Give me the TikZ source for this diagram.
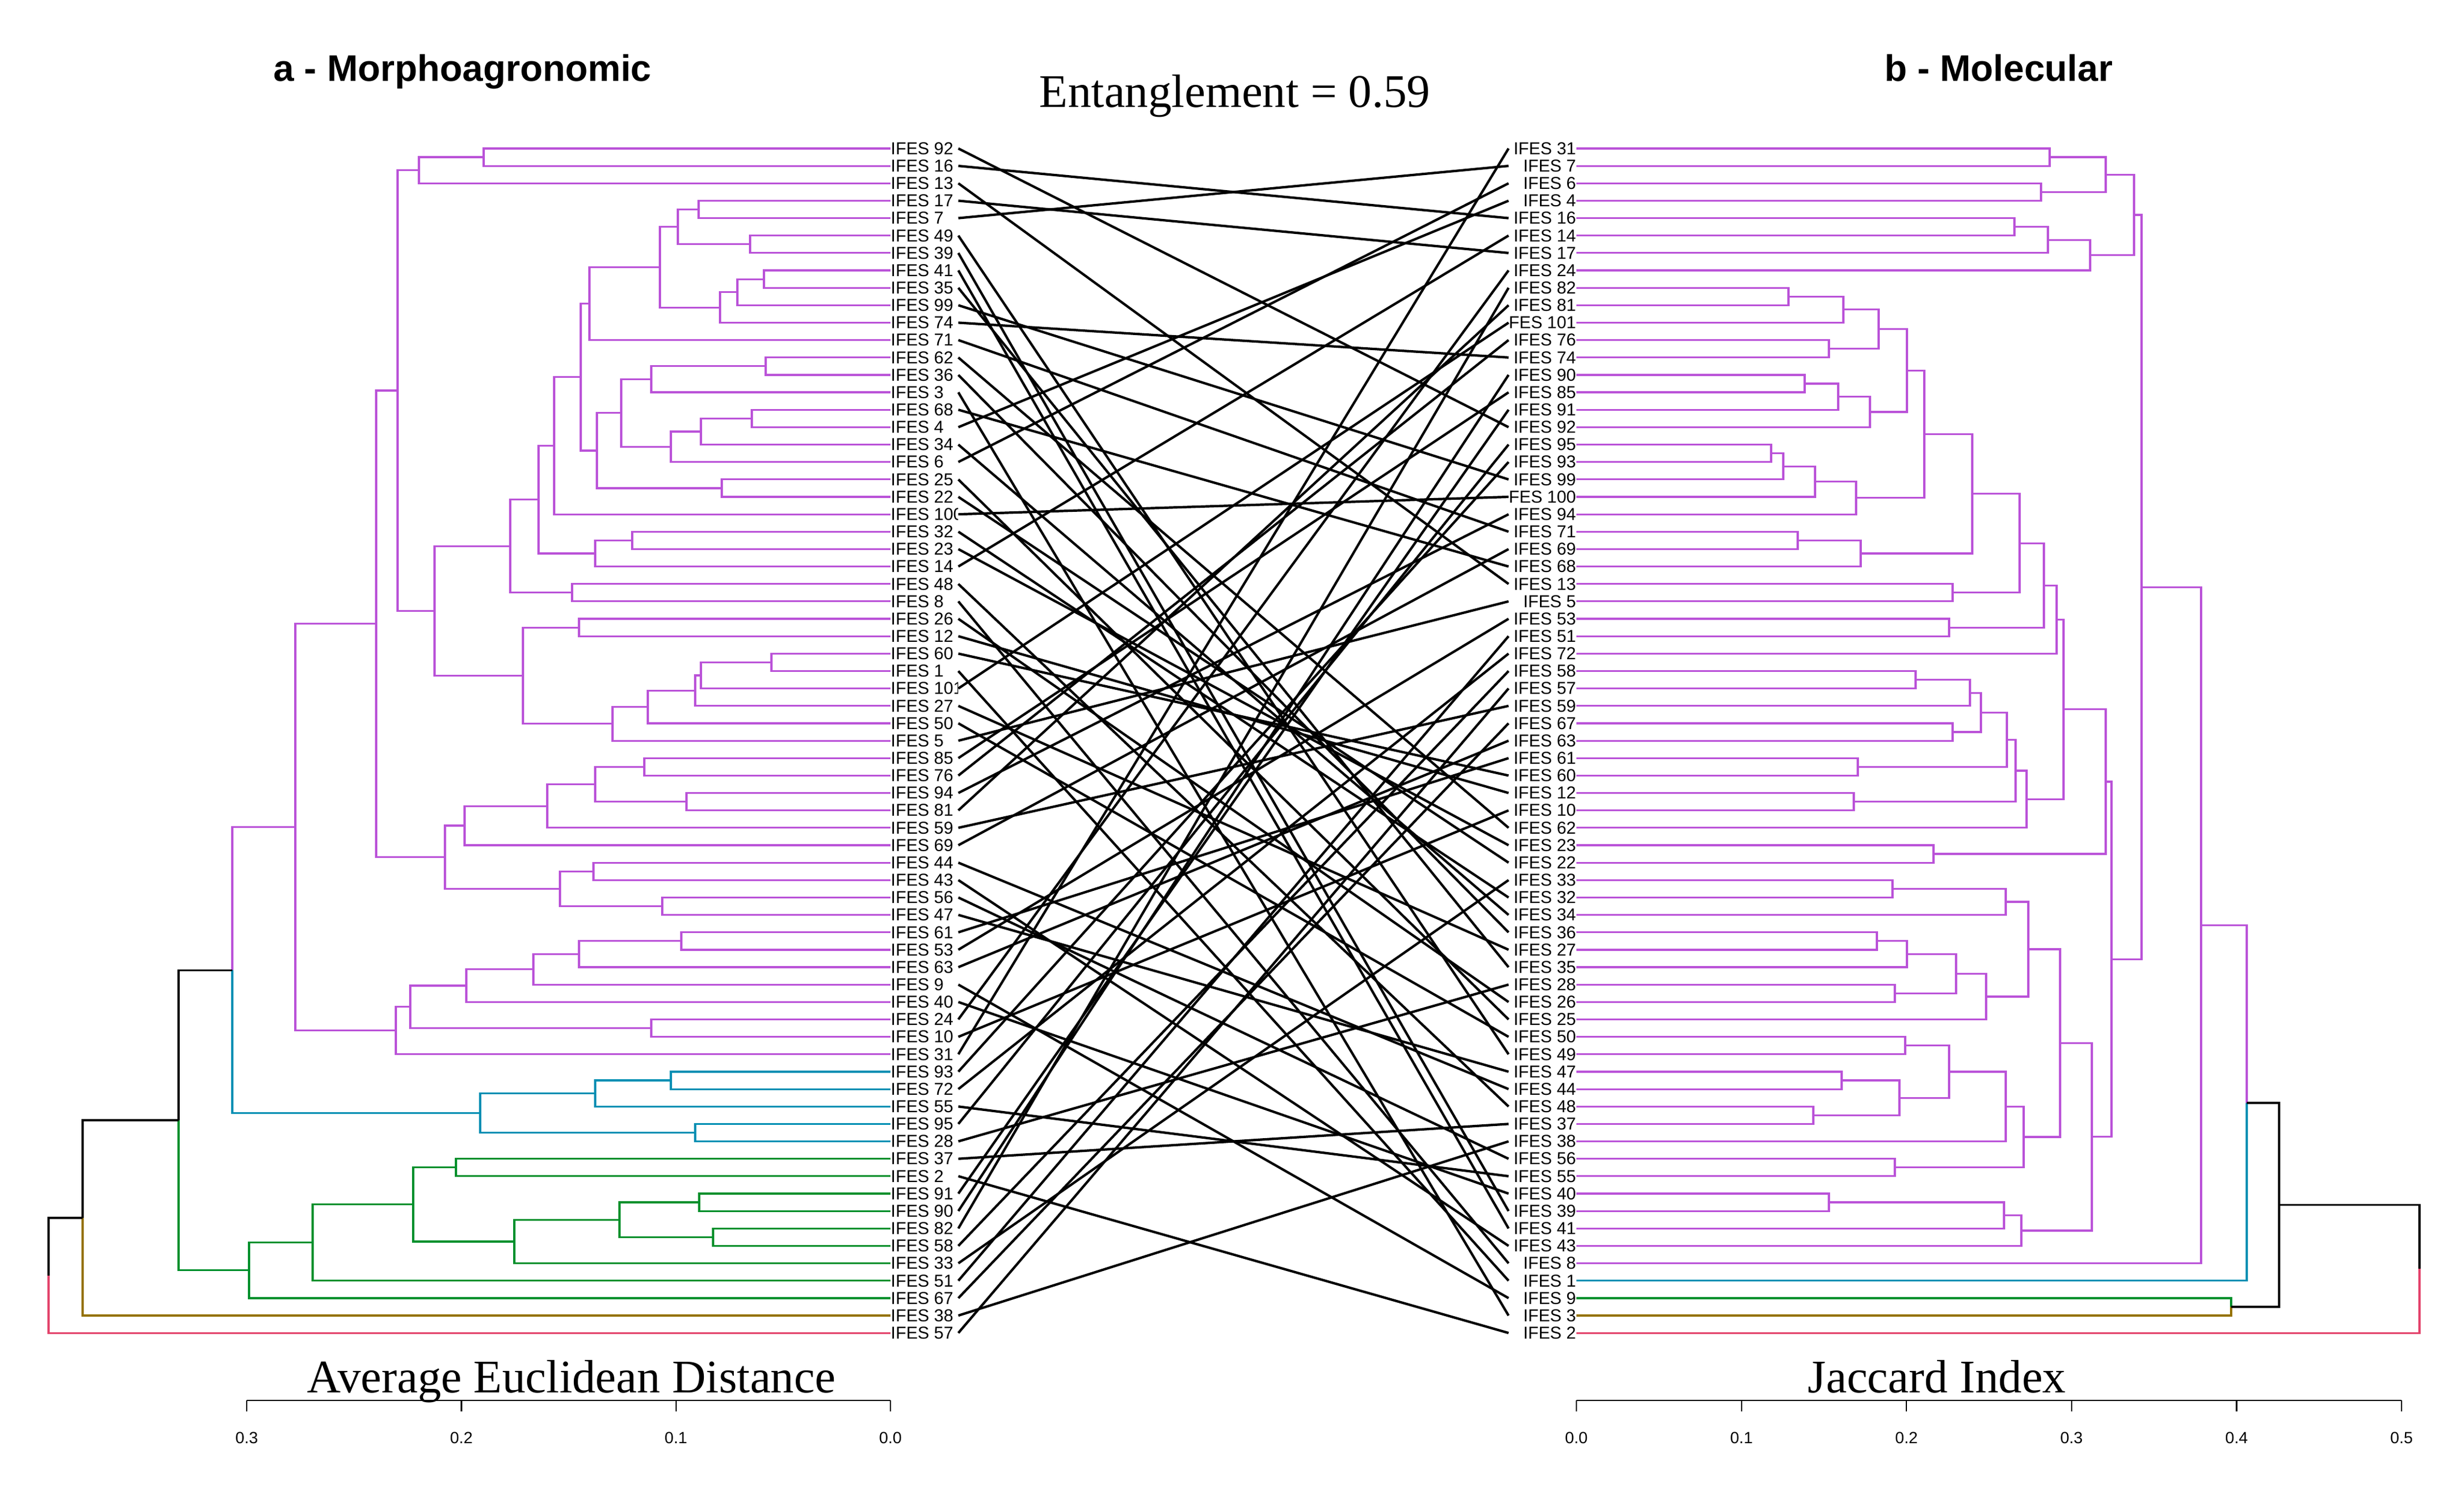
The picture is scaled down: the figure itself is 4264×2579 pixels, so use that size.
\documentclass[tikz,border=0pt]{standalone}
\usepackage{fontspec}
\setmainfont{Liberation Serif}
\setsansfont{Liberation Sans}
\usetikzlibrary{calc}

\begin{document}
\begin{tikzpicture}
  [x=0.1mm, y=-0.1mm,
    line join=miter]

    \definecolor{mauve}{HTML}{BA52D8}
    \definecolor{petrol}{HTML}{008FB3}
    \definecolor{vert}{HTML}{00902C}
    \definecolor{bronze}{HTML}{957200}
    \definecolor{rose}{HTML}{E3436B}

  \tikzset{
    branch/.style={line width=0.32mm},
    tmauve/.style={branch, draw=mauve},
    tblue/.style={branch, draw=petrol},
    tgreen/.style={branch, draw=vert},
    tolive/.style={branch, draw=bronze},
    tred/.style={branch, draw=rose},
    tblack/.style={branch, draw=black},
    leaf/.style={
      inner sep=0pt,
      font=\sffamily\fontsize{8.5}{8.5}\selectfont,
    },
    lname/.style={leaf, anchor=west},
    rname/.style={leaf, anchor=east},
    tie/.style={draw=black, line width=0.42mm},
    scaleline/.style={draw=black, line width=0.22mm},
    ticklab/.style={inner sep=0pt, font=\sffamily\fontsize{8}{8}\selectfont},
    paneltitle/.style={inner sep=0pt, font=\sffamily\bfseries\fontsize{18.2}{18.2}\selectfont},
    serifcap/.style={inner sep=0pt, font=\fontsize{23}{23}\selectfont},
  }

  \useasboundingbox (0,0) rectangle (4264,2579);

  % labels, cut at the ends of the ties
  \begin{scope}
    \clip (1400,200) rectangle (1657,2400);
    \foreach \n [count=\i] in {92,16,13,17,7,49,39,41,35,99,74,71,62,36,3,68,4,34,6,25,22,100,32,
        23,14,48,8,26,12,60,1,101,27,50,5,85,76,94,81,59,69,44,43,56,47,61,53,63,9,40,24,10,31,93,
        72,55,95,28,37,2,91,90,82,58,33,51,67,38,57}
      \node[lname] (l\n) at (1541, {257+(\i-1)*30.15}) {\makebox[11.6mm][l]{IFES \n}};
  \end{scope}
  \begin{scope}
    \clip (2612,200) rectangle (2900,2400);
    \foreach \n [count=\i] in {31,7,6,4,16,14,17,24,82,81,101,76,74,90,85,91,92,95,93,99,100,94,71,
        69,68,13,5,53,51,72,58,57,59,67,63,61,60,12,10,62,23,22,33,32,34,36,27,35,28,26,25,50,49,47,
        44,48,37,38,56,55,40,39,41,43,8,1,9,3,2}
      \node[rname] (r\n) at (2728, {257+(\i-1)*30.15}) {\makebox[11.6mm][r]{IFES \n}};
  \end{scope}

  % left tree
  \foreach \nm/\h/\ca/\cb/\st in {
      la1/837/l92/l16/tmauve, la2/725/la1/l13/tmauve, la3/1209/l17/l7/tmauve,
      la4/1298/l49/l39/tmauve, la5/1173/la3/la4/tmauve, la6/1322/l41/l35/tmauve,
      la7/1276/la6/l99/tmauve, la8/1246/la7/l74/tmauve, la9/1142/la5/la8/tmauve,
      la10/1020/la9/l71/tmauve, la11/1325/l62/l36/tmauve, la12/1127/la11/l3/tmauve,
      la13/1301/l68/l4/tmauve, la14/1213/la13/l34/tmauve, la15/1161/la14/l6/tmauve,
      la16/1075/la12/la15/tmauve, la17/1249/l25/l22/tmauve, la18/1033/la16/la17/tmauve,
      la19/1005/la10/la18/tmauve, la20/959/la19/l100/tmauve, la21/1094/l32/l23/tmauve,
      la22/1030/la21/l14/tmauve, la23/932/la20/la22/tmauve, la24/990/l48/l8/tmauve,
      la25/883/la23/la24/tmauve, la26/1002/l26/l12/tmauve, la27/1335/l60/l1/tmauve,
      la28/1213/la27/l101/tmauve, la29/1203/la28/l27/tmauve, la30/1121/la29/l50/tmauve,
      la31/1060/la30/l5/tmauve, la32/905/la26/la31/tmauve, la33/752/la25/la32/tmauve,
      la34/688/la2/la33/tmauve, la35/1115/l85/l76/tmauve, la36/1188/l94/l81/tmauve,
      la37/1030/la35/la36/tmauve, la38/947/la37/l59/tmauve, la39/804/la38/l69/tmauve,
      la40/1027/l44/l43/tmauve, la41/1146/l56/l47/tmauve, la42/969/la40/la41/tmauve,
      la43/770/la39/la42/tmauve, la44/651/la34/la43/tmauve, la45/1179/l61/l53/tmauve,
      la46/1002/la45/l63/tmauve, la47/923/la46/l9/tmauve, la48/807/la47/l40/tmauve,
      la49/1127/l24/l10/tmauve, la50/710/la48/la49/tmauve, la51/685/la50/l31/tmauve,
      la52/511/la44/la51/tmauve,
      la53/1161/l93/l72/tblue, la54/1030/la53/l55/tblue, la55/1203/l95/l28/tblue,
      la56/831/la54/la55/tblue,
      la58/789/l37/l2/tgreen, la59/1210/l91/l90/tgreen, la60/1234/l82/l58/tgreen,
      la61/1072/la59/la60/tgreen, la62/890/la61/l33/tgreen, la63/715/la58/la62/tgreen,
      la64/541/la63/l51/tgreen, la65/431/la64/l67/tgreen}{
    \path let \p1=($(\ca)!0.5!(\cb)$) in coordinate (\nm) at (\h*0.1mm, \y1);
    \draw[\st] (\ca) -| (\nm) |- (\cb);
  }

  \path let \p1=($(la52)!0.5!(la56)$) in coordinate (la57) at (402*0.1mm, \y1);
  \draw[tmauve] (la57) |- (la52);
  \draw[tblue] (la57) |- (la56);
  \path let \p1=($(la57)!0.5!(la65)$) in coordinate (la66) at (309*0.1mm, \y1);
  \draw[tblack] (la66) |- (la57);
  \draw[tgreen] (la66) |- (la65);
  \path let \p1=($(la66)!0.5!(l38)$) in coordinate (la67) at (143*0.1mm, \y1);
  \draw[tblack] (la67) |- (la66);
  \draw[tolive] (la67) |- (l38);
  \path let \p1=($(la67)!0.5!(l57)$) in coordinate (la68) at (84*0.1mm, \y1);
  \draw[tblack] (la68) |- (la67);
  \draw[tred] (la68) |- (l57);

  % right tree
  \foreach \nm/\h/\ca/\cb in {
      ra1/3547/r31/r7, ra2/3532/r6/r4, ra3/3644/ra1/ra2, ra4/3486/r16/r14,
      ra5/3544/ra4/r17, ra6/3617/ra5/r24, ra7/3693/ra3/ra6, ra8/3095/r82/r81,
      ra9/3190/ra8/r101, ra10/3165/r76/r74, ra11/3251/ra9/ra10, ra12/3123/r90/r85,
      ra13/3181/ra12/r91, ra14/3236/ra13/r92, ra15/3300/ra11/ra14, ra16/3065/r95/r93,
      ra17/3086/ra16/r99, ra18/3141/ra17/r100, ra19/3212/ra18/r94, ra20/3330/ra15/ra19,
      ra21/3111/r71/r69, ra22/3220/ra21/r68, ra23/3413/ra20/ra22, ra24/3379/r13/r5,
      ra25/3495/ra23/ra24, ra26/3373/r53/r51, ra27/3537/ra25/ra26, ra28/3559/ra27/r72,
      ra29/3315/r58/r57, ra30/3409/ra29/r59, ra31/3379/r67/r63, ra32/3428/ra30/ra31,
      ra33/3215/r61/r60, ra34/3473/ra32/ra33, ra35/3208/r12/r10, ra36/3488/ra34/ra35,
      ra37/3507/ra36/r62, ra38/3571/ra28/ra37, ra39/3346/r23/r22, ra40/3644/ra38/ra39,
      ra41/3275/r33/r32, ra42/3471/ra41/r34, ra43/3248/r36/r27, ra44/3300/ra43/r35,
      ra45/3279/r28/r26, ra46/3385/ra44/ra45, ra47/3437/ra46/r25, ra48/3510/ra42/ra47,
      ra49/3297/r50/r49, ra50/3187/r47/r44, ra51/3138/r48/r37, ra52/3287/ra50/ra51,
      ra53/3373/ra49/ra52, ra54/3471/ra53/r38, ra55/3279/r56/r55, ra56/3502/ra54/ra55,
      ra57/3565/ra48/ra56, ra58/3165/r40/r39, ra59/3468/ra58/r41, ra60/3498/ra59/r43,
      ra61/3620/ra57/ra60, ra62/3654/ra40/ra61, ra63/3706/ra7/ra62, ra64/3809/ra63/r8}{
    \path let \p1=($(\ca)!0.5!(\cb)$) in coordinate (\nm) at (\h*0.1mm, \y1);
    \draw[tmauve] (\ca) -| (\nm) |- (\cb);
  }

  \path let \p1=($(ra64)!0.5!(r1)$) in coordinate (ra65) at (3888*0.1mm, \y1);
  \draw[tmauve] (ra65) |- (ra64);
  \draw[tblue] (ra65) |- (r1);
  \path let \p1=($(r9)!0.5!(r3)$) in coordinate (ra66) at (3861*0.1mm, \y1);
  \draw[tgreen] (ra66) |- (r9);
  \draw[tolive] (ra66) |- (r3);
  \path let \p1=($(ra65)!0.5!(ra66)$) in coordinate (ra67) at (3944*0.1mm, \y1);
  \draw[tblack] (ra65) -| (ra67) |- (ra66);
  \path let \p1=($(ra67)!0.5!(r2)$) in coordinate (ra68) at (4187*0.1mm, \y1);
  \draw[tblack] (ra68) |- (ra67);
  \draw[tred] (ra68) |- (r2);

  % ties between the two orders
  \foreach \n in {92,16,13,17,7,49,39,41,35,99,74,71,62,36,3,68,4,34,6,25,22,100,32,23,14,48,8,
      26,12,60,1,101,27,50,5,85,76,94,81,59,69,44,43,56,47,61,53,63,9,40,24,10,31,93,72,55,95,28,
      37,2,91,90,82,58,33,51,67,38,57}
    \draw[tie] (l\n.east) -- (r\n.west);

  % scales
  \draw[scaleline] (427,2424) -- (1541,2424);
  \foreach \v/\p [count=\i] in {0.3/427, 0.2/798.4, 0.1/1169.7, 0.0/1541} {
    \draw[scaleline] (\p,2424) -- (\p,2443);
    \node[ticklab] (lt\i) at (\p,2489) {\v};
  }
  \draw[scaleline] (2728,2424) -- (4156,2424);
  \foreach \v/\p [count=\i] in {0.0/2728, 0.1/3013.6, 0.2/3299.2, 0.3/3584.8, 0.4/3870.4, 0.5/4156} {
    \draw[scaleline] (\p,2424) -- (\p,2443);
    \node[ticklab] (rt\i) at (\p,2489) {\v};
  }

  \node[paneltitle, anchor=base west] (ttla) at (473,141) {a - Morphoagronomic};
  \node[paneltitle, anchor=base west] (ttlb) at (3261,141) {b - Molecular};
  \node[serifcap, anchor=base] (ent) at (2137,186) {Entanglement = 0.59};
  \node[serifcap, anchor=base] (xla) at (989,2410) {Average Euclidean Distance};
  \node[serifcap, anchor=base] (xlb) at (3352,2410) {Jaccard Index};
\end{tikzpicture}
\end{document}
